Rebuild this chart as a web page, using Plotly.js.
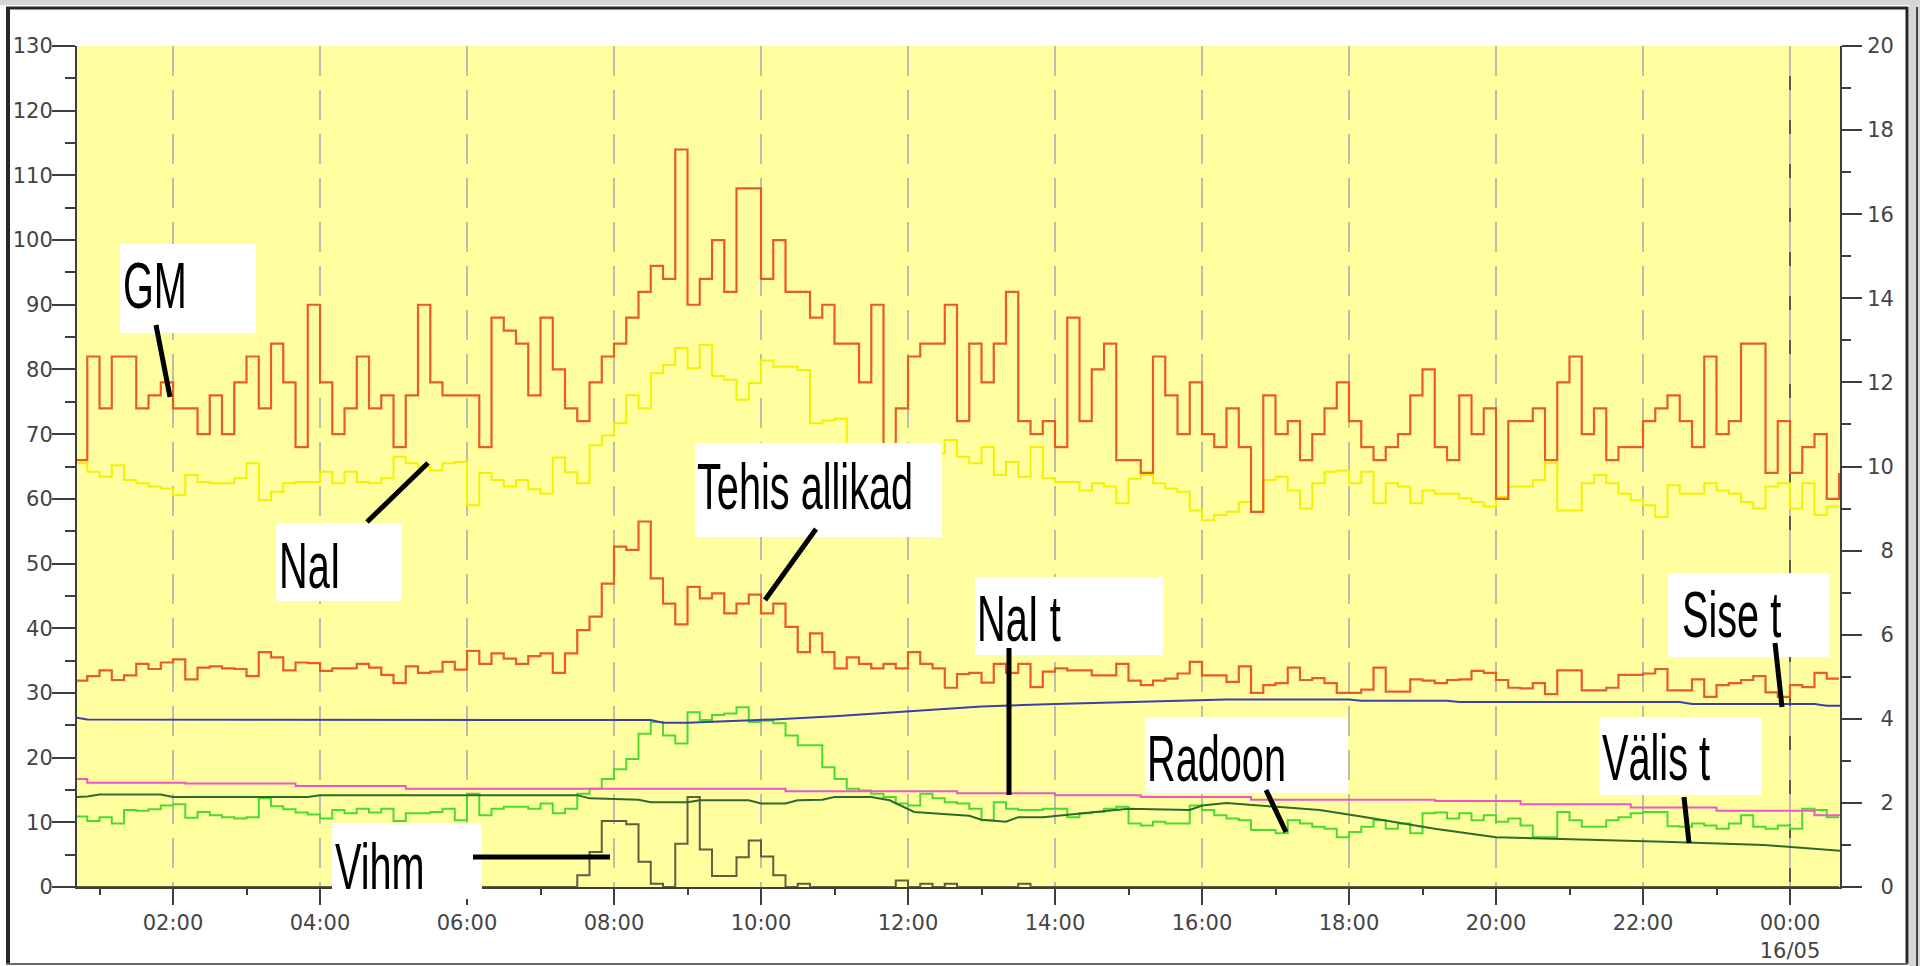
<!DOCTYPE html>
<html>
<head>
<meta charset="utf-8">
<script src="https://cdn.plot.ly/plotly-3.0.1.min.js"></script>
<style>
html,body{margin:0;padding:0;background:#ffffff;}
#chart{width:1920px;height:966px;}
.annotation-text{transform-box:fill-box;transform-origin:0% 50%;transform:scaleX(0.62);}
</style>
</head>
<body>
<div id="chart"></div>
<script>
// ---------- DATA ----------
// 10-minute samples, first sample 15/05 00:40, last 16/05 00:40
const sampleStart = '2010-05-15 00:40';
const sampleStepMin = 10;

const gmValues = [
 66,82,74,82,82,74,76,78,74,74,
 70,76,70,78,82,74,84,78,68,90,
 78,70,74,82,74,76,68,76,90,78,
 76,76,76,68,88,86,84,76,88,80,
 74,72,78,82,84,88,92,96,94,114,
 90,94,100,92,108,108,94,100,92,92,
 88,90,84,84,78,90,62,74,82,84,
 84,90,72,84,78,84,92,72,70,72,
 68,88,72,80,84,66,66,64,82,76,
 70,78,70,68,74,68,58,76,70,72,
 66,70,74,78,72,68,66,68,70,76,
 80,68,66,76,70,74,60,72,72,74,
 66,78,82,70,74,66,68,68,72,74,
 76,72,68,82,70,72,84,84,64,72,
 64,68,70,60,64
];

const tehisValues = [
 31.9,32.6,33.5,32.0,32.7,34.5,33.7,34.7,35.2,32.1,
 33.9,34.1,33.8,33.7,32.6,36.3,35.5,33.5,34.7,34.6,
 33.4,33.8,33.8,34.5,33.9,32.8,31.5,34.1,33.1,33.3,
 34.8,33.6,36.5,34.5,36.1,35.3,34.5,35.7,36.1,33.1,
 36.1,39.7,41.8,46.9,52.6,52.1,56.5,47.7,43.8,40.6,
 46.4,44.6,45.4,42.3,43.8,45.2,42.3,43.8,40.2,36.3,
 39.2,36.3,33.8,35.5,34.5,33.8,34.5,33.8,36.3,34.5,
 33.8,30.8,32.9,33.1,31.6,34.5,33.1,34.5,30.9,33.3,
 33.8,33.5,33.5,32.7,32.7,34.5,31.9,31.2,31.9,32.2,
 33.0,34.8,32.7,32.7,31.7,34.1,30.0,31.2,31.5,33.9,
 32.0,32.3,31.5,30.0,30.0,30.5,33.9,30.2,30.2,32.1,
 31.9,31.5,32.0,32.1,33.4,33.1,32.0,30.8,30.7,31.5,
 29.8,33.5,33.5,30.4,30.4,30.8,32.8,32.8,33.0,33.7,
 30.4,30.4,32.1,29.4,31.2,31.5,32.0,32.6,30.1,29.4,
 31.2,30.9,33.1,32.2,32.2
];

const naiValues = [
 65.5,64.2,63.4,65.2,62.9,62.4,61.9,61.6,60.6,63.7,
 62.6,62.4,62.4,63.2,65.5,59.8,61.1,62.4,62.6,62.6,
 64.2,62.4,64.2,62.6,62.4,63.2,66.5,65.5,64.9,64.4,
 65.5,65.7,59.0,64.0,62.9,61.9,62.9,61.5,60.8,66.4,
 64.1,62.4,68.3,69.8,71.7,76.0,74.0,79.4,80.7,83.3,
 80.2,83.8,79.0,78.4,75.3,77.9,81.4,80.4,80.4,79.9,
 71.7,72.1,72.4,66.0,65.0,66.0,64.0,66.0,65.0,66.0,
 67.0,69.1,66.5,65.5,68.0,63.7,65.7,63.4,68.0,63.2,
 62.6,62.6,61.3,62.4,61.9,59.3,63.1,63.7,62.4,61.6,
 61.1,58.2,56.7,57.5,58.0,59.5,58.0,62.9,63.4,61.3,
 58.5,62.4,64.2,64.4,62.4,64.2,59.3,62.4,61.9,59.3,
 61.3,60.8,60.8,60.1,59.5,58.8,60.3,61.9,61.9,62.9,
 65.5,58.2,58.2,62.4,63.7,62.4,60.8,59.8,59.0,57.2,
 62.1,60.8,60.8,62.4,61.3,60.8,59.5,58.5,61.9,62.4,
 58.5,62.4,57.5,58.8,58.8
];

const radoonValues = [
 10.9,10.2,10.8,9.8,11.9,11.8,12.0,12.6,12.8,10.7,
 11.6,11.1,10.8,10.6,10.8,13.7,12.5,12.0,11.5,11.2,
 10.6,11.9,11.4,12.1,11.5,12.1,10.2,11.4,11.4,11.6,
 12.1,10.3,14.4,11.1,12.1,12.4,12.4,12.1,12.9,11.4,
 12.1,14.4,15.2,16.7,18.2,19.8,23.7,25.5,23.4,22.2,
 27.0,25.8,26.6,26.8,27.8,25.5,25.7,25.3,23.4,21.9,
 21.9,18.5,16.7,15.2,14.9,14.4,13.9,12.9,12.6,14.4,
 13.7,13.1,12.9,12.1,10.3,13.1,12.1,11.9,11.9,12.1,
 12.1,10.8,11.4,11.6,12.1,12.4,9.8,9.5,10.1,9.8,
 9.8,12.6,11.9,11.1,10.6,10.3,8.8,8.8,8.3,10.3,
 9.8,9.3,9.0,7.7,8.5,9.3,10.3,9.0,9.8,8.3,
 11.4,11.5,10.6,11.4,10.3,11.1,10.1,10.6,9.5,7.7,
 7.7,11.6,10.3,9.3,9.3,10.3,10.8,11.4,11.6,11.6,
 9.4,9.3,9.8,9.5,9.0,9.8,11.1,9.3,9.0,9.5,
 9.0,12.1,11.9,10.8,10.8
];

const vihmValues = [
 0,0,0,0,0,0,0,0,0,0,
 0,0,0,0,0,0,0,0,0,0,
 0,0,0,0,0,0,0,0,0,0,
 0,0,0,0,0,0,0,0,0,0,
 0,1.8,5.4,10.2,10.2,9.7,3.9,0.5,0,6.7,
 13.9,5.8,1.7,1.7,4.6,7.2,4.7,1.8,0,0.5,
 0,0,0,0,0,0,0,1.0,0,0.5,
 0,0.5,0,0,0,0,0,0.5,0,0,
 0,0,0,0,0,0,0,0,0,0,
 0,0,0,0,0,0,0,0,0,0,
 0,0,0,0,0,0,0,0,0,0,
 0,0,0,0,0,0,0,0,0,0,
 0,0,0,0,0,0,0,0,0,0,
 0,0,0,0,0,0,0,0,0,0,
 0,0,0,0,0
];

const siseTimes = ['2010-05-15 00:41','2010-05-15 00:50','2010-05-15 08:30','2010-05-15 08:40','2010-05-15 09:00','2010-05-15 10:10','2010-05-15 11:00','2010-05-15 12:00','2010-05-15 13:00','2010-05-15 14:00','2010-05-15 15:00','2010-05-15 16:00','2010-05-15 16:20','2010-05-15 18:00','2010-05-15 18:10','2010-05-15 19:20','2010-05-15 19:30','2010-05-15 22:30','2010-05-15 22:40','2010-05-16 00:20','2010-05-16 00:30','2010-05-16 00:41'];
const siseValues = [26.2,25.9,25.8,25.4,25.4,25.9,26.4,27.1,27.9,28.3,28.6,28.8,29.0,29.0,28.8,28.8,28.6,28.6,28.3,28.3,28.0,28.0];

const naitTimes = ['2010-05-15 00:40','2010-05-15 00:50','2010-05-15 02:10','2010-05-15 03:40','2010-05-15 05:10','2010-05-15 10:20','2010-05-15 12:40','2010-05-15 14:00','2010-05-15 15:10','2010-05-15 16:40','2010-05-15 19:10','2010-05-15 20:20','2010-05-15 21:50','2010-05-15 23:00','2010-05-16 00:20','2010-05-16 00:41'];
const naitValues = [16.7,16.1,16.0,15.6,15.2,14.8,14.5,14.2,13.9,13.5,13.3,12.8,12.3,11.8,11.1,11.1];

const valisTimes = ['2010-05-15 00:41','2010-05-15 00:50','2010-05-15 01:00','2010-05-15 01:50','2010-05-15 02:00','2010-05-15 03:50','2010-05-15 04:00','2010-05-15 07:30','2010-05-15 07:40','2010-05-15 08:20','2010-05-15 08:30','2010-05-15 09:00','2010-05-15 09:10','2010-05-15 09:50','2010-05-15 10:00','2010-05-15 10:20','2010-05-15 10:30','2010-05-15 10:50','2010-05-15 11:00','2010-05-15 11:30','2010-05-15 11:45','2010-05-15 12:05','2010-05-15 12:50','2010-05-15 13:00','2010-05-15 13:20','2010-05-15 13:30','2010-05-15 13:50','2010-05-15 15:00','2010-05-15 15:50','2010-05-15 16:00','2010-05-15 16:20','2010-05-15 17:36','2010-05-15 18:10','2010-05-15 19:10','2010-05-15 20:00','2010-05-15 20:44','2010-05-15 22:17','2010-05-15 23:39','2010-05-16 00:01','2010-05-16 00:41'];
const valisValues = [13.9,14.0,14.3,14.3,13.9,13.9,14.2,14.2,13.7,13.5,13.1,13.1,13.4,13.4,12.9,12.9,13.4,13.5,13.9,13.9,13.4,11.6,11.0,10.4,10.1,10.8,10.8,12.1,11.9,12.6,13.0,11.9,10.9,9.0,7.7,7.5,7.0,6.5,6.2,5.6];

const xRange = ['2010-05-15 00:41:37','2010-05-16 00:40:49'];
const xTickTimes = ['2010-05-15 02:00','2010-05-15 04:00','2010-05-15 06:00','2010-05-15 08:00','2010-05-15 10:00','2010-05-15 12:00','2010-05-15 14:00','2010-05-15 16:00','2010-05-15 18:00','2010-05-15 20:00','2010-05-15 22:00','2010-05-16 00:00'];
const xTickLabels = ['02:00','04:00','06:00','08:00','10:00','12:00','14:00','16:00','18:00','20:00','22:00','00:00<br>16/05'];
const dayBreak = '2010-05-16 00:00';

const yLeftRange = [0,130];
const yRightRange = [0,20];
const yRightTicks = [0,2,4,6,8,10,12,14,16,18,20];
const yRightLabels = ['\u20070','\u20072','\u20074','\u20076','\u20078','10','12','14','16','18','20'];

const labelTexts = ['GM','NaI','Tehis allikad','NaI t','Radoon','Sise t','Välis t','Vihm'];

// ---------- LAYOUT GEOMETRY (pixels of the 1920x966 page) ----------
const PL = 77, PR = 1840, PT = 46, PB = 887;
const px = v => (v - PL) / (PR - PL);
const py = v => (PB - v) / (PB - PT);
const labelBoxPx = [[120,244,256,333],[276,523,402,601],[695,443,942,537],[975,577,1163,655],[1145,717,1348,793],[1668,573,1829,657],[1599,717,1762,795],[332,823,482,899]];
const labelTextPx = [[122,285.5],[278,565],[696,486.5],[976,618],[1146,758],[1681,614],[1601,757.5],[334,866]];
const leaderPx = [[156,325,170,397],[367,522,428,463],[816,529,765,600],[1009,648,1009,795],[1266,790,1286,832],[1775,643,1782,707],[1684,797,1689,843],[473,857,610,857]];

// ---------- BUILD ----------
function sampleTimes(n){
  const base = new Date(sampleStart.replace(' ','T') + ':00Z').getTime();
  const out = [];
  const p = v => String(v).padStart(2,'0');
  for (let i = 0; i < n; i++) {
    const d = new Date(base + i * sampleStepMin * 60000);
    out.push(d.getUTCFullYear() + '-' + p(d.getUTCMonth()+1) + '-' + p(d.getUTCDate()) + ' ' + p(d.getUTCHours()) + ':' + p(d.getUTCMinutes()));
  }
  return out;
}
const t = sampleTimes(gmValues.length);

const AX = '#3e3e3e';
const TF = {family:'DejaVu Sans, Verdana, sans-serif', size:21, color:'#444444'};

const stepTrace = (y, color, name, w) => ({x:t, y:y, type:'scatter', mode:'lines', name:name, line:{color:color, width:w||2, shape:'hv'}, hoverinfo:'skip'});

const traces = [
  stepTrace(vihmValues, '#5e5e40', 'Vihm'),
  stepTrace(radoonValues, '#48dc32', 'Radoon'),
  {x:valisTimes, y:valisValues, type:'scatter', mode:'lines', name:'Välis t', line:{color:'#2f6a2a', width:2}, hoverinfo:'skip'},
  {x:naitTimes, y:naitValues, type:'scatter', mode:'lines', name:'NaI t', line:{color:'#ee55c8', width:2, shape:'hv'}, hoverinfo:'skip'},
  {x:siseTimes, y:siseValues, type:'scatter', mode:'lines', name:'Sise t', line:{color:'#3d3fa8', width:2}, hoverinfo:'skip'},
  stepTrace(naiValues, '#f4f000', 'NaI'),
  stepTrace(tehisValues, '#ea5a2a', 'Tehis allikad', 2.2),
  stepTrace(gmValues, '#ea5a2a', 'GM', 2.2),
  // carrier for the right-hand scale (no marks)
  {x:[], y:[], type:'scatter', mode:'lines', yaxis:'y2', name:'', hoverinfo:'skip', showlegend:false}
];

const shapes = [];
// window frame
shapes.push({type:'rect', xref:'paper', yref:'paper', x0:px(0), x1:px(1920), y0:py(0), y1:py(5), fillcolor:'#d6d6d6', line:{width:0}, layer:'above'});
shapes.push({type:'rect', xref:'paper', yref:'paper', x0:px(1909), x1:px(1920), y0:py(0), y1:py(966), fillcolor:'#d6d6d6', line:{width:0}, layer:'above'});
shapes.push({type:'line', xref:'paper', yref:'paper', x0:px(8), x1:px(8), y0:py(7), y1:py(964), line:{color:'#262626', width:4}, layer:'above'});
shapes.push({type:'line', xref:'paper', yref:'paper', x0:px(6), x1:px(1908), y0:py(8), y1:py(8), line:{color:'#262626', width:3}, layer:'above'});
shapes.push({type:'line', xref:'paper', yref:'paper', x0:px(1907), x1:px(1907), y0:py(7), y1:py(964), line:{color:'#262626', width:3}, layer:'above'});
shapes.push({type:'line', xref:'paper', yref:'paper', x0:px(1917), x1:px(1917), y0:py(7), y1:py(966), line:{color:'#444444', width:2}, layer:'above'});
shapes.push({type:'line', xref:'paper', yref:'paper', x0:px(6), x1:px(1908), y0:py(964), y1:py(964), line:{color:'#6a6a6a', width:2}, layer:'above'});
// darker day-break grid line
shapes.push({type:'line', xref:'x', yref:'paper', x0:dayBreak, x1:dayBreak, y0:0, y1:1, line:{color:'#5a5a50', width:2, dash:'30px,14px'}, layer:'below'});
// label boxes
labelBoxPx.forEach(b => shapes.push({type:'rect', xref:'paper', yref:'paper', x0:px(b[0]), x1:px(b[2]), y0:py(b[3]), y1:py(b[1]), fillcolor:'#ffffff', line:{width:0}, layer:'above'}));
// leader lines
leaderPx.forEach(l => shapes.push({type:'line', xref:'paper', yref:'paper', x0:px(l[0]), y0:py(l[1]), x1:px(l[2]), y1:py(l[3]), line:{color:'#000000', width:5}, layer:'above'}));

const annotations = labelTexts.map((txt, i) => ({
  text: txt, xref:'paper', yref:'paper', x: px(labelTextPx[i][0]), y: py(labelTextPx[i][1]),
  xanchor:'left', yanchor:'middle', showarrow:false, borderpad:0,
  font:{family:'Liberation Sans, Arial, sans-serif', size:64, color:'#000000'}
}));

const layout = {
  width:1920, height:966, autosize:false,
  margin:{l:PL, r:1920-PR, t:PT, b:966-PB, pad:0},
  paper_bgcolor:'#ffffff', plot_bgcolor:'#ffffa0',
  showlegend:false,
  xaxis:{
    type:'date', range:xRange, fixedrange:true, automargin:false,
    showline:true, linecolor:AX, linewidth:2,
    ticks:'outside', ticklen:16, tickwidth:2, tickcolor:AX,
    tickmode:'array', tickvals:xTickTimes, ticktext:xTickLabels, tickfont:TF,
    showgrid:true, gridcolor:'#bdbdab', gridwidth:2, griddash:'30px,14px', zeroline:false,
    minor:{tickmode:'linear', tick0:'2010-05-15 01:00', dtick:7200000, ticks:'outside', ticklen:6, tickwidth:2, tickcolor:AX, showgrid:false}
  },
  yaxis:{
    range:yLeftRange, fixedrange:true, automargin:false,
    tickmode:'linear', tick0:0, dtick:10,
    ticks:'outside', ticklen:23, tickwidth:2, tickcolor:AX,
    showline:true, linecolor:AX, linewidth:2, showgrid:false, zeroline:false,
    tickfont:TF, ticklabelstandoff:-5,
    minor:{tickmode:'linear', tick0:0, dtick:5, ticks:'outside', ticklen:10, tickwidth:2, tickcolor:AX, showgrid:false}
  },
  yaxis2:{
    overlaying:'y', side:'right', range:yRightRange, fixedrange:true, automargin:false,
    tickmode:'array', tickvals:yRightTicks, ticktext:yRightLabels,
    ticks:'outside', ticklen:20, tickwidth:2, tickcolor:AX,
    showline:true, linecolor:AX, linewidth:2, showgrid:false, zeroline:false,
    tickfont:TF, ticklabelstandoff:1,
    minor:{tickmode:'linear', tick0:0, dtick:1, ticks:'outside', ticklen:9, tickwidth:2, tickcolor:AX, showgrid:false}
  },
  shapes:shapes,
  annotations:annotations
};

Plotly.newPlot('chart', traces, layout, {staticPlot:true, displayModeBar:false});
</script>
</body>
</html>
